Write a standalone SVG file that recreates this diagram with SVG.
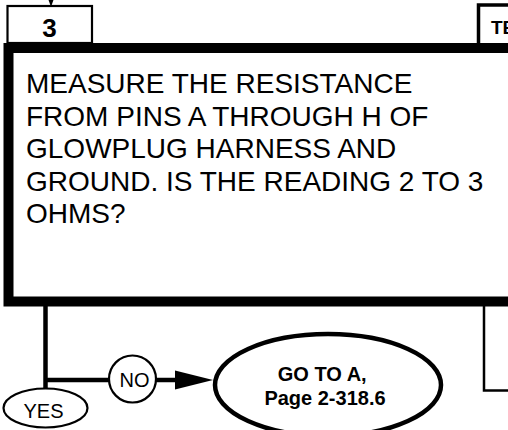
<svg xmlns="http://www.w3.org/2000/svg" width="508" height="430" viewBox="0 0 508 430">
<style>
  .reg { font-family: "Liberation Sans", Arial, sans-serif; fill: #000; }
  .bold { font-family: "Liberation Sans", Arial, sans-serif; font-weight: bold; fill: #000; }
  .thin { fill: #fff; stroke: #000; stroke-width: 2.2; }
  .line { fill: none; stroke: #000; stroke-width: 4.5; }
</style>
<rect width="508" height="430" fill="#fff"/>
<g id="connectors">
  <line x1="51" y1="-10" x2="51" y2="0" stroke="#000" stroke-width="2"/>
  <polygon points="47.5,-3 54.5,-3 51,7" fill="#000"/>
  <polyline class="line" points="45.5,306 45.5,388"/>
  <line class="line" x1="45.5" y1="380" x2="109" y2="380"/>
  <line class="line" x1="156" y1="380" x2="177" y2="380"/>
  <polygon points="175,370.5 213,380 175,389.5" fill="#000"/>
</g>
<g id="node-te">
  <rect x="478.5" y="5" width="60" height="45" fill="#fff" stroke="#000" stroke-width="3.5"/>
  <text class="bold" x="491" y="33.5" font-size="19">TE</text>
</g>
<g id="node-3">
  <rect class="thin" x="7.5" y="6" width="84.5" height="37"/>
  <text class="bold" x="49.5" y="37.3" font-size="26" text-anchor="middle">3</text>
</g>
<g id="node-right-box">
  <polyline points="484,306 484,390.5 512,390.5" fill="none" stroke="#000" stroke-width="2.5"/>
</g>
<g id="node-question">
  <rect x="8.5" y="48" width="600" height="253.5" fill="#fff" stroke="#000" stroke-width="10"/>
  <text class="reg" font-size="28">
    <tspan x="26" y="93.3">MEASURE THE RESISTANCE</tspan>
    <tspan x="26" y="125.8">FROM PINS A THROUGH H OF</tspan>
    <tspan x="26" y="158.3">GLOWPLUG HARNESS AND</tspan>
    <tspan x="26" y="190.8">GROUND. IS THE READING 2 TO 3</tspan>
    <tspan x="26" y="223.3">OHMS?</tspan>
  </text>
</g>
<g id="node-yes">
  <ellipse class="thin" cx="45.5" cy="408" rx="42" ry="19.5"/>
  <text class="reg" x="43.5" y="418.3" font-size="20" text-anchor="middle">YES</text>
</g>
<g id="node-no">
  <circle class="thin" cx="132.5" cy="379" r="23.5"/>
  <text class="reg" x="134.5" y="386.5" font-size="20" text-anchor="middle">NO</text>
</g>
<g id="node-goto">
  <ellipse cx="328" cy="385" rx="113" ry="51" fill="#fff" stroke="#000" stroke-width="4.5"/>
  <text class="bold" font-size="20" text-anchor="middle">
    <tspan x="325" y="381">GO TO A,</tspan>
    <tspan x="325" y="405">Page 2-318.6</tspan>
  </text>
</g>
</svg>
